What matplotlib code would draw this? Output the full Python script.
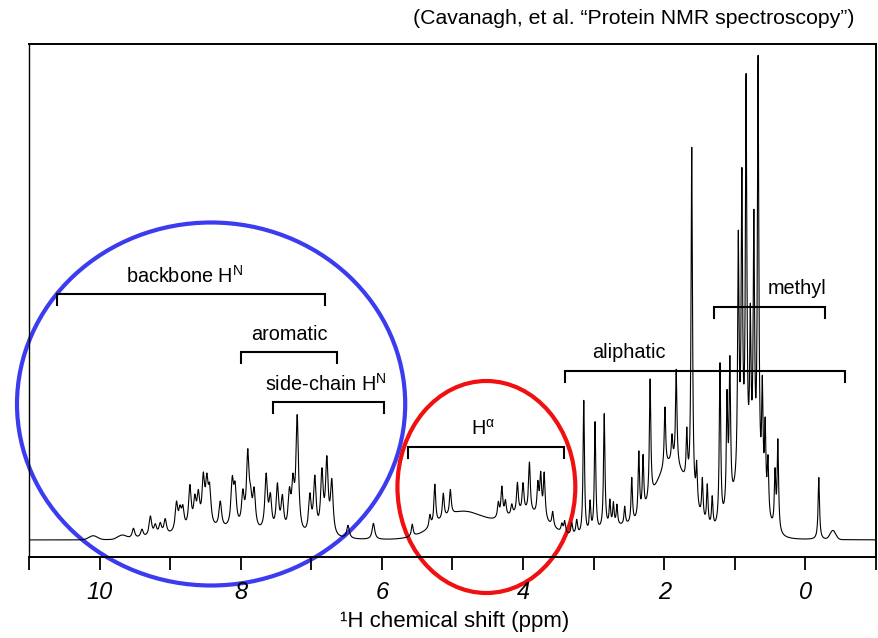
import numpy as np
import matplotlib
matplotlib.use("Agg")
import matplotlib.pyplot as plt
from matplotlib.patches import Ellipse

plt.rcParams['font.family'] = ['Liberation Sans', 'DejaVu Sans']
plt.rcParams['mathtext.fontset'] = 'custom'
plt.rcParams['mathtext.rm'] = 'Liberation Sans'
plt.rcParams['mathtext.it'] = 'Liberation Sans:italic'

# peaks: position (ppm) and height above baseline
# amide / aromatic region
hn_ppm = [9.52, 9.40, 9.28, 9.21, 9.14, 9.07, 8.91, 8.86, 8.82, 8.72, 8.65, 8.60,
          8.53, 8.48, 8.44, 8.29, 8.12, 8.08, 7.97, 7.90, 7.86, 7.81, 7.64, 7.58,
          7.48, 7.41, 7.31, 7.26, 7.20, 7.02, 6.95, 6.85, 6.78, 6.71, 6.48, 6.12]
hn_height = [10, 8, 20, 10, 11, 15, 28, 18, 20, 42, 26, 30,
             46, 40, 34, 26, 44, 36, 32, 72, 22, 36, 55, 32,
             46, 33, 36, 43, 115, 37, 55, 60, 72, 52, 13, 16]
hn_width = 0.022

# H-alpha region
ha_ppm = [5.57, 5.32, 5.25, 5.13, 5.03, 4.35, 4.30, 4.25, 4.16, 4.08, 4.00, 3.91,
          3.79, 3.75, 3.70, 3.58, 3.45, 3.41, 3.31, 3.24]
ha_height = [12, 12, 40, 25, 25, 15, 30, 15, 10, 30, 28, 50,
             30, 40, 45, 15, 8, 12, 12, 15]
ha_width = 0.015

# aliphatic / methyl region
al_ppm = [3.14, 3.05, 2.98, 2.85, 2.77, 2.72, 2.67, 2.56, 2.46, 2.36, 2.30, 2.20,
          1.99, 1.89, 1.83, 1.68, 1.61, 1.54, 1.46, 1.39, 1.32, 1.21, 1.11, 1.07,
          0.95, 0.90, 0.84, 0.78, 0.73, 0.67, 0.61, 0.57, 0.53, 0.43, 0.39, -0.19]
al_height = [135, 30, 110, 115, 25, 22, 20, 18, 45, 65, 55, 120,
             60, 25, 95, 50, 350, 40, 40, 40, 30, 160, 110, 140,
             240, 290, 390, 150, 255, 430, 110, 80, 55, 55, 90, 62]
al_width = 0.012

# broad humps underneath (ppm, height, spread)
hump_ppm = [10.09, 9.68, 8.30, 4.85, 3.95, 2.65, 1.90, 0.85, -0.39]
hump_height = [4, 4, 9, 28, 25, 12, 75, 50, 9]
hump_sigma = [0.06, 0.06, 0.55, 0.35, 0.30, 0.25, 0.25, 0.20, 0.04]

# assignment brackets
region_names = ['backbone H$^{\\mathrm{N}}$', 'aromatic', 'side-chain H$^{\\mathrm{N}}$',
                'H$^{\\mathrm{\\alpha}}$', 'aliphatic', 'methyl']
region_from = [10.60, 7.99, 7.54, 5.63, 3.41, 1.29]
region_to = [6.80, 6.63, 5.97, 3.42, -0.56, -0.28]

x_ticks = list(range(-1, 12))

ppm = np.linspace(-1, 11, 24001)
spec = np.zeros_like(ppm)
for pos, h, w in [(p, hh, hn_width) for p, hh in zip(hn_ppm, hn_height)] + \
                 [(p, hh, ha_width) for p, hh in zip(ha_ppm, ha_height)] + \
                 [(p, hh, al_width) for p, hh in zip(al_ppm, al_height)]:
    spec += h * w**2 / (w**2 + (ppm - pos)**2)
for pos, h, s in zip(hump_ppm, hump_height, hump_sigma):
    spec += h * np.exp(-0.5 * ((ppm - pos) / s)**2)

fig = plt.figure(figsize=(8.79, 6.38), dpi=100)
ax = fig.add_axes([29/879, 1 - 557/638, (876 - 29)/879, (557 - 44)/638])
ax.plot(ppm, spec, color='black', lw=0.8)
ax.set_xlim(11, -1)
ax.set_ylim(-17, 496)
ax.set_yticks([])
ax.set_xticks(x_ticks)
ax.set_xticklabels([str(t) if (t % 2 == 0 and 0 <= t <= 10) else '' for t in x_ticks])
ax.tick_params(axis='x', direction='out', length=9, width=1.3, pad=8, labelsize=17)
for lab in ax.get_xticklabels():
    lab.set_fontstyle('italic')
for sp in ax.spines.values():
    sp.set_linewidth(1.4)
ax.spines['left'].set_linewidth(1.0)

# x label placed by hand so it stays inside the canvas
fig.text(455/879, 1 - 622/638, '¹H chemical shift (ppm)', ha='center', va='center',
         fontsize=16)

# brackets
bracket_y = [246, 188, 138, 93, 169, 233]
label_x = [8.79, 7.31, 6.79, 4.57, 2.50, 0.12]
label_dy = 18
for name, a, b, yb, lx in zip(region_names, region_from, region_to, bracket_y, label_x):
    ax.plot([a, a, b, b], [yb - 11, yb, yb, yb - 11], color='black', lw=1.5,
            solid_joinstyle='miter')
    ax.text(lx, yb + label_dy, name, ha='center', va='center', fontsize=14.3)

# highlight circles
ax.add_patch(Ellipse((8.42, 136), 5.50, 363, fill=False, ec='#3b3bf0', lw=3,
                     clip_on=False))
ax.add_patch(Ellipse((4.52, 53), 2.52, 212, fill=False, ec='#f01010', lw=3,
                     clip_on=False))

fig.text(855/879, 1 - 19/638, '(Cavanagh, et al. \u201cProtein NMR spectroscopy\u201d)',
         ha='right', va='center', fontsize=15.3)

fig.savefig('out.png', dpi=100)
